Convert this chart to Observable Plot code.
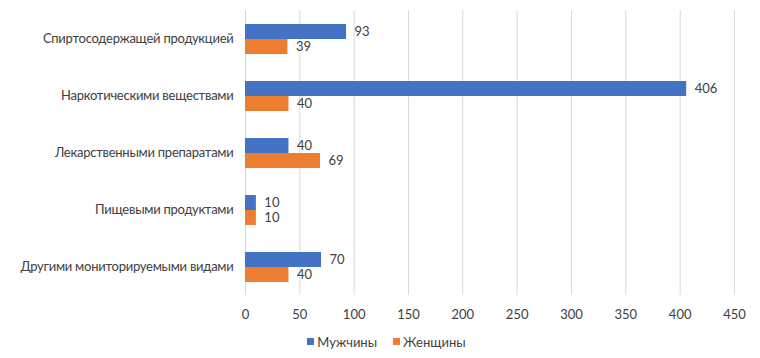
<!DOCTYPE html>
<html>
<head>
<meta charset="utf-8">
<script src="https://cdn.jsdelivr.net/npm/d3@7"></script>
<script src="https://cdn.jsdelivr.net/npm/@observablehq/plot@0.6"></script>
<style>
  body { margin: 0; background: #fff; }
  #chart { width: 760px; height: 325px; }
  #legend { display: flex; justify-content: center; align-items: center; height: 33px;
    font-family: Lato, 'Open Sans', sans-serif; font-size: 13px; color: #404040; padding-left: 13px; }
  .item { display: flex; align-items: center; margin: 0 8px; }
  .sw { width: 7px; height: 7px; margin-right: 3px; }
</style>
</head>
<body>
<div id="chart"></div>
<div id="legend"></div>
<script>
const categories = [
  "Спиртосодержащей продукцией",
  "Наркотическими веществами",
  "Лекарственными препаратами",
  "Пищевыми продуктами",
  "Другими мониторируемыми видами"
];
const seriesNames = ["Мужчины", "Женщины"];
const men = [93, 406, 40, 10, 70];
const women = [39, 40, 69, 10, 40];
const xTicks = [0, 50, 100, 150, 200, 250, 300, 350, 400, 450];
const colors = ["#4472C4", "#ED7D31"];

const data = [];
categories.forEach((c, i) => {
  data.push({category: c, series: seriesNames[0], value: men[i]});
  data.push({category: c, series: seriesNames[1], value: women[i]});
});

const font = "Lato, 'Open Sans', sans-serif";

const plot = Plot.plot({
  width: 760,
  height: 325,
  marginLeft: 245,
  marginRight: 26,
  marginTop: 9,
  marginBottom: 30,
  style: {fontFamily: font, fontSize: "13px", color: "#404040", background: "#fff"},
  x: {domain: [0, 450], ticks: xTicks, label: null, tickSize: 0, tickPadding: 14},
  fy: {domain: categories, label: null, padding: 0, tickSize: 0, tickPadding: 12},
  y: {domain: seriesNames, axis: null, paddingInner: 0, paddingOuter: 0.85},
  color: {domain: seriesNames, range: colors},
  marks: [
    Plot.ruleX(xTicks, {stroke: "#d9d9d9", strokeWidth: 1}),
    Plot.barX(data, {x: "value", y: "series", fy: "category", fill: "series"}),
    Plot.text(data, {x: "value", y: "series", fy: "category", text: d => String(d.value),
      textAnchor: "start", dx: 8, fill: "#404040", fontSize: 13})
  ]
});
d3.select(plot).selectAll("[aria-label='fy-axis tick label'] text, g[aria-label='fy-axis'] text")
  .style("letter-spacing", "-0.25px");
document.getElementById("chart").appendChild(plot);

const leg = d3.select("#legend");
seriesNames.forEach((s, i) => {
  const it = leg.append("div").attr("class", "item");
  it.append("div").attr("class", "sw").style("background", colors[i]);
  it.append("span").text(s);
});
</script>
</body>
</html>
